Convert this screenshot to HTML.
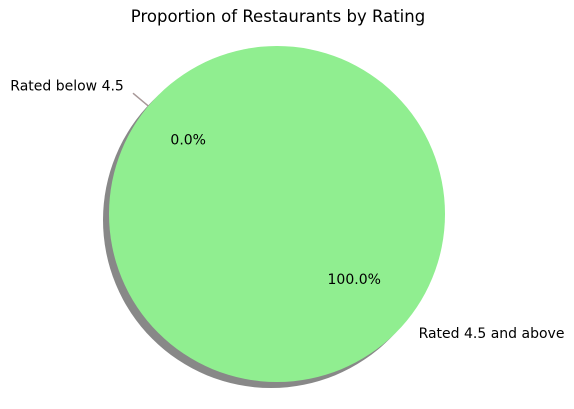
<!DOCTYPE html>
<html><head><meta charset="utf-8"><style>
body{margin:0;background:#fff;}
svg{display:block;font-family:"DejaVu Sans","Liberation Sans",sans-serif;}
</style></head><body>
<svg id="chart" width="574" height="409">
<text x="278" y="22" font-size="16.5" text-anchor="middle">Proportion of Restaurants by Rating</text>
</svg>
<script>
const categories = ["Rated below 4.5", "Rated 4.5 and above"];
const values = [0, 100];
const colors = ["#ff9999", "#90ee90"];
const pctLabels = ["0.0%", "100.0%"];
const svg = document.getElementById('chart');
const NS = 'http://www.w3.org/2000/svg';
const cx = 277, cy = 214, r = 168, start = 140;
function pt(a, rr){ const t = a*Math.PI/180; return [cx + rr*Math.cos(t), cy - rr*Math.sin(t)]; }
const sh = document.createElementNS(NS,'circle');
sh.setAttribute('cx', cx-6); sh.setAttribute('cy', cy+6); sh.setAttribute('r', r);
sh.setAttribute('fill', '#737373'); sh.setAttribute('opacity', '0.85');


svg.appendChild(sh);
const total = values.reduce((a,b)=>a+b,0);
let ang = start;
const labelQueue = [];
values.forEach((v,i)=>{
  const sweep = v/total*360;
  let el;
  if (sweep >= 359.999) {
    el = document.createElementNS(NS,'circle');
    el.setAttribute('cx', cx); el.setAttribute('cy', cy); el.setAttribute('r', r);
  } else if (sweep > 0) {
    el = document.createElementNS(NS,'path');
    const [x1,y1] = pt(ang, r), [x2,y2] = pt(ang+sweep, r);
    el.setAttribute('d', `M${cx},${cy}L${x1},${y1}A${r},${r} 0 ${sweep>180?1:0} 0 ${x2},${y2}Z`);
  } else {
    el = document.createElementNS(NS,'line');
    const [x1,y1] = pt(ang, r-3), [x2,y2] = pt(ang, r+20);
    el.setAttribute('x1', x1); el.setAttribute('y1', y1); el.setAttribute('x2', x2); el.setAttribute('y2', y2);
    el.setAttribute('stroke', '#a89898'); el.setAttribute('stroke-width', '1.5');
  }
  if (sweep > 0) el.setAttribute('fill', colors[i]);
  
  
  svg.appendChild(el);
  labelQueue.push([i, ang + sweep/2, sweep === 0]);
  ang += sweep;
});
labelQueue.forEach(([i, mid, zero])=>{
  const [px,py] = pt(mid, r*(zero?0.69:0.6));
  const p = document.createElementNS(NS,'text');
  p.setAttribute('x', px); p.setAttribute('y', py+5); p.setAttribute('font-size','14');
  p.setAttribute('text-anchor','middle'); p.textContent = pctLabels[i];
  
  
  svg.appendChild(p);
  const [lx,ly] = pt(mid, r*(zero?1.19:1.1));
  const c = Math.cos(mid*Math.PI/180);
  const l = document.createElementNS(NS,'text');
  l.setAttribute('x', lx); l.setAttribute('y', ly+5); l.setAttribute('font-size','14');
  l.setAttribute('text-anchor', c < 0 ? 'end' : 'start'); l.textContent = categories[i];
  
  
  svg.appendChild(l);
});
</script>
</body></html>
